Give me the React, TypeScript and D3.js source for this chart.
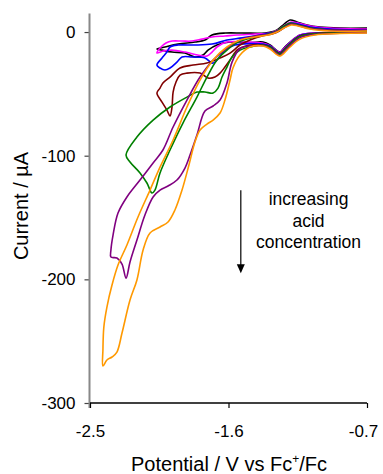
import React, { useEffect, useRef } from 'react';
import * as d3 from 'd3';

// [potential (V vs Fc+/Fc), current (µA)] — each CV is one closed loop
const blackScan: [number, number][] = [
  [-0.70, 0], [-0.875, -0.4], [-1.04, -0.8], [-1.135, -2.4], [-1.20, -8.1], [-1.24, -12.9],
  [-1.265, -16.2], [-1.29, -14.6], [-1.33, -10.5], [-1.376, -8.1], [-1.46, -8.5], [-1.59, -8.1],
  [-1.675, -10.5], [-1.733, -14.6], [-1.766, -18.6], [-1.818, -20.2], [-1.883, -17], [-1.967, -16.2],
  [-2.032, -14.6], [-2.065, -13.7], [-2.013, -12.1], [-1.928, -9.7], [-1.818, -8.1], [-1.753, -6.5],
  [-1.707, -2.4], [-1.62, -0.8], [-1.51, -0.8], [-1.363, -0.8], [-1.298, 0.8], [-1.252, 4.9],
  [-1.20, 9.7], [-1.155, 8.1], [-1.09, 5.7], [-1.005, 4.0], [-0.875, 3.2], [-0.70, 3.2],
];

const magentaScan: [number, number][] = [
  [-0.70, 0.5], [-0.875, 0], [-1.04, -0.8], [-1.135, -2.4], [-1.20, -8.5], [-1.24, -13.3],
  [-1.265, -16.5], [-1.29, -15], [-1.33, -11], [-1.376, -9], [-1.49, -8.1], [-1.61, -8.1],
  [-1.675, -12.1], [-1.707, -16.2], [-1.74, -19.4], [-1.80, -18.6], [-1.883, -16.2], [-1.967, -14.6],
  [-2.026, -15.4], [-2.065, -17], [-2.045, -12.9], [-2.006, -8.9], [-1.967, -7.3], [-1.902, -7.3],
  [-1.837, -7.3], [-1.772, -5.7], [-1.707, -4.0], [-1.623, -3.2], [-1.545, -2.4], [-1.43, -1.6],
  [-1.33, -0.8], [-1.278, 1.6], [-1.233, 5.7], [-1.193, 8.1], [-1.148, 7.3], [-1.07, 4.9],
  [-0.94, 3.2], [-0.70, 2.4],
];

const blueScan: [number, number][] = [
  [-0.70, 0.5], [-0.875, -0.2], [-1.04, -1.0], [-1.135, -2.8], [-1.20, -9], [-1.24, -14],
  [-1.265, -17], [-1.29, -15.4], [-1.33, -11.3], [-1.376, -9.7], [-1.46, -9.3], [-1.558, -10.5],
  [-1.623, -14.6], [-1.655, -19.4], [-1.688, -24.3], [-1.707, -25.1], [-1.753, -21], [-1.837, -20.2],
  [-1.902, -20.2], [-1.935, -24.3], [-1.98, -29.1], [-2.013, -30.7], [-2.045, -29.1], [-2.065, -26.7],
  [-2.032, -21], [-2.00, -16.2], [-1.98, -12.1], [-1.928, -10.5], [-1.818, -10.5], [-1.707, -9.7],
  [-1.61, -6.5], [-1.525, -4.9], [-1.43, -3.2], [-1.33, -0.8], [-1.278, 0.8], [-1.233, 4.9],
  [-1.193, 7.3], [-1.148, 6.5], [-1.07, 4.0], [-0.94, 2.4], [-0.70, 1.6],
];

const maroonScan: [number, number][] = [
  [-0.70, 0], [-0.875, -0.5], [-1.04, -1.2], [-1.135, -3.2], [-1.20, -9.5], [-1.24, -14.5],
  [-1.265, -17.5], [-1.29, -15.8], [-1.33, -12], [-1.376, -10.5], [-1.46, -10.5], [-1.506, -12.1],
  [-1.545, -14.6], [-1.59, -22.6], [-1.623, -28.3], [-1.655, -33.2], [-1.688, -36.4], [-1.733, -37.2],
  [-1.785, -33.2], [-1.87, -33.2], [-1.915, -34.8], [-1.941, -40.4], [-1.96, -48.5], [-1.967, -60.6],
  [-1.98, -67.9], [-2.0, -63.1], [-2.032, -56.6], [-2.065, -49.3], [-2.045, -45.3], [-2.026, -41.2],
  [-1.98, -36.4], [-1.915, -29.1], [-1.83, -26.7], [-1.74, -25.1], [-1.655, -21], [-1.59, -17],
  [-1.525, -10.5], [-1.46, -6.5], [-1.382, -3.2], [-1.317, -1.6], [-1.27, 0.8], [-1.233, 4.0],
  [-1.193, 6.5], [-1.148, 5.7], [-1.07, 3.2], [-0.94, 1.6], [-0.70, 0.8],
];

const greenScan: [number, number][] = [
  [-0.70, 0], [-0.875, -0.6], [-1.04, -1.4], [-1.135, -3.6], [-1.20, -10], [-1.24, -15],
  [-1.265, -18], [-1.29, -16.2], [-1.33, -12.1], [-1.376, -10.5], [-1.46, -12.1], [-1.525, -14.6],
  [-1.577, -20.2], [-1.61, -28.3], [-1.642, -36.4], [-1.668, -45.3], [-1.70, -49.3], [-1.753, -48.5],
  [-1.805, -48.5], [-1.87, -52.6], [-1.98, -60.6], [-2.09, -71.2], [-2.195, -84.9], [-2.266, -99.5],
  [-2.24, -105.1], [-2.175, -114], [-2.13, -122.1], [-2.097, -130.2], [-2.078, -127.8], [-2.045, -114],
  [-1.98, -95.4], [-1.896, -73.6], [-1.805, -52.6], [-1.74, -36.4], [-1.675, -22.6], [-1.61, -14.6],
  [-1.538, -8.1], [-1.43, -4.0], [-1.343, -1.6], [-1.285, 0.8], [-1.239, 4.9], [-1.20, 7.3],
  [-1.148, 5.7], [-1.07, 3.2], [-0.94, 1.6], [-0.70, 0.8],
];

const purpleScan: [number, number][] = [
  [-0.70, -0.5], [-0.875, -1], [-1.04, -2], [-1.135, -4.5], [-1.20, -11], [-1.24, -16],
  [-1.265, -19], [-1.29, -17], [-1.33, -13], [-1.376, -11], [-1.46, -11.3], [-1.525, -13.3],
  [-1.577, -24.3], [-1.61, -41.2], [-1.655, -55], [-1.70, -59.8], [-1.753, -63.9], [-1.805, -83.3],
  [-1.85, -99.5], [-1.883, -110], [-1.935, -119.7], [-1.993, -124.5], [-2.045, -127.8], [-2.09, -133.4],
  [-2.143, -148], [-2.195, -168.2], [-2.24, -186], [-2.266, -199], [-2.292, -187.6], [-2.325, -182.7],
  [-2.364, -182], [-2.364, -176.3], [-2.35, -164], [-2.318, -146.4], [-2.26, -133.4], [-2.175, -119.7],
  [-2.09, -105.9], [-2.026, -95.4], [-1.96, -76.8], [-1.87, -55], [-1.785, -36.4], [-1.70, -22.6],
  [-1.61, -12.9], [-1.525, -6.5], [-1.43, -3.2], [-1.33, -1.6], [-1.278, 0.8], [-1.233, 4.0],
  [-1.193, 6.5], [-1.148, 5.3], [-1.07, 2.8], [-0.94, 1.6], [-0.70, 1.6],
];

const orangeScan: [number, number][] = [
  [-0.70, -0.8], [-0.875, -1.2], [-1.038, -2.4], [-1.135, -5.7], [-1.20, -12.1], [-1.239, -17],
  [-1.265, -19.4], [-1.291, -17.8], [-1.33, -13.7], [-1.376, -11.3], [-1.46, -12.1], [-1.525, -18.6],
  [-1.571, -29.1], [-1.59, -38.8], [-1.623, -55], [-1.655, -65.5], [-1.70, -71.2], [-1.74, -74.4],
  [-1.785, -79.2], [-1.818, -89], [-1.857, -107.5], [-1.902, -127.8], [-1.948, -143.9], [-1.993, -153.6],
  [-2.045, -157.7], [-2.11, -162.5], [-2.155, -176.3], [-2.195, -200.5], [-2.24, -216.7], [-2.292, -243.4],
  [-2.325, -258.8], [-2.357, -262.8], [-2.39, -265.2], [-2.416, -270.1], [-2.416, -257.1], [-2.41, -238.5],
  [-2.39, -222.4], [-2.357, -204.6], [-2.318, -188.4], [-2.26, -172.2], [-2.188, -149.6], [-2.11, -127.8],
  [-2.045, -109.2], [-1.96, -87.3], [-1.87, -60.6], [-1.785, -38.8], [-1.70, -22.6], [-1.61, -12.1],
  [-1.525, -6.5], [-1.43, -4.0], [-1.343, -2.4], [-1.285, 0], [-1.239, 3.2], [-1.193, 5.7],
  [-1.148, 4.9], [-1.07, 2.4], [-0.94, 0.8], [-0.70, 0.8],
];

// drawn in this order, orange last (on top)
const scans = [blackScan, magentaScan, blueScan, maroonScan, greenScan, purpleScan, orangeScan];
const scanColors = ['#000000', '#FF00FF', '#0000FF', '#800000', '#008000', '#800080', '#FF9900'];

const xTicks = [-2.5, -1.6, -0.7];
const yTicks = [0, -100, -200, -300];
const xDomain: [number, number] = [-2.5, -0.7];
const yDomain: [number, number] = [-300, 15];

// annotation: arrow + text placed in data units
const noteLines = ['increasing', 'acid', 'concentration'];
const arrowV = -1.52;
const arrowFrom = -128;
const arrowTo = -195;

const FONT = "'Liberation Sans', Arial, sans-serif";

const App = () => {
  const svgRef = useRef<SVGSVGElement | null>(null);
  const width = 383;
  const height = 474;

  useEffect(() => {
    if (!svgRef.current) return;

    const x = d3.scaleLinear().domain(xDomain).range([90, 367]);
    const y = d3.scaleLinear().domain(yDomain).range([403, 13.5]);

    const svg = d3.select(svgRef.current);
    svg.selectAll('*').remove();

    // y axis (grey spine, ticks to the left); plain hyphen minus like the original
    const yAxis = svg.append('g')
      .attr('transform', 'translate(89.5,0)')
      .call(d3.axisLeft(y).tickValues(yTicks).tickSize(5).tickPadding(9).tickFormat((d: any) => String(d)));
    yAxis.select('.domain').remove();
    yAxis.selectAll('.tick line').attr('stroke', '#444').attr('stroke-width', 1.2);
    yAxis.selectAll('.tick text')
      .style('font-family', FONT)
      .style('font-size', '17px')
      .attr('fill', '#000');

    svg.append('line')
      .attr('x1', 89.5).attr('x2', 89.5)
      .attr('y1', y(yDomain[1])).attr('y2', y(yDomain[0]) + 5)
      .attr('stroke', '#888').attr('stroke-width', 2);

    // x axis (black, ticks down)
    const xAxis = svg.append('g')
      .attr('transform', `translate(0,${y(yDomain[0])})`)
      .call(d3.axisBottom(x).tickValues(xTicks).tickSize(5).tickPadding(17).tickFormat((d: any) => (+d).toFixed(1)));
    xAxis.select('.domain').remove();
    xAxis.selectAll('.tick line').attr('stroke', '#000').attr('stroke-width', 1.2);
    xAxis.selectAll('.tick text')
      .style('font-family', FONT)
      .style('font-size', '17px')
      .attr('fill', '#000')
      .attr('dx', (d: any) => (d === xDomain[1] ? -4 : 0));

    svg.append('line')
      .attr('x1', x(xDomain[0])).attr('x2', x(xDomain[1]))
      .attr('y1', y(yDomain[0])).attr('y2', y(yDomain[0]))
      .attr('stroke', '#000').attr('stroke-width', 1.3);

    // CV loops
    const line = d3.line<[number, number]>()
      .x(d => x(d[0]))
      .y(d => y(d[1]))
      .curve(d3.curveCatmullRom.alpha(0.5));

    svg.append('g')
      .selectAll('path')
      .data(scans)
      .enter()
      .append('path')
      .attr('d', d => line(d) as string)
      .attr('fill', 'none')
      .attr('stroke', (_, i) => scanColors[i])
      .attr('stroke-width', 1.6)
      .attr('stroke-linejoin', 'round');

    // arrow
    const ax = x(arrowV);
    svg.append('line')
      .attr('x1', ax).attr('x2', ax)
      .attr('y1', y(arrowFrom)).attr('y2', y(arrowTo) - 6)
      .attr('stroke', '#000').attr('stroke-width', 1.2);
    svg.append('path')
      .attr('d', `M${ax - 4},${y(arrowTo) - 9} L${ax + 4},${y(arrowTo) - 9} L${ax},${y(arrowTo)} Z`)
      .attr('fill', '#000');

    const note = svg.append('text')
      .attr('x', x(-1.08))
      .attr('y', y(-140))
      .attr('text-anchor', 'middle')
      .style('font-family', FONT)
      .style('font-size', '17.5px')
      .attr('fill', '#000');
    noteLines.forEach((t, i) => {
      note.append('tspan')
        .attr('x', x(-1.08))
        .attr('dy', i === 0 ? 0 : 21.5)
        .text(t);
    });

    // axis titles
    const xt = svg.append('text')
      .attr('x', 229)
      .attr('y', 471)
      .attr('text-anchor', 'middle')
      .style('font-family', FONT)
      .style('font-size', '20px')
      .attr('fill', '#000');
    xt.append('tspan').text('Potential / V vs Fc');
    xt.append('tspan').attr('dy', -8).style('font-size', '12px').text('+');
    xt.append('tspan').attr('dy', 8).text('/Fc');

    svg.append('text')
      .attr('transform', 'translate(28,206) rotate(-90)')
      .attr('text-anchor', 'middle')
      .style('font-family', FONT)
      .style('font-size', '20px')
      .attr('fill', '#000')
      .text('Current / µA');
  }, []);

  return (
    <div style={{ position: 'absolute', left: 0, top: 0, width, height, background: '#fff' }}>
      <svg ref={svgRef} width={width} height={height}></svg>
    </div>
  );
};

export default App;
